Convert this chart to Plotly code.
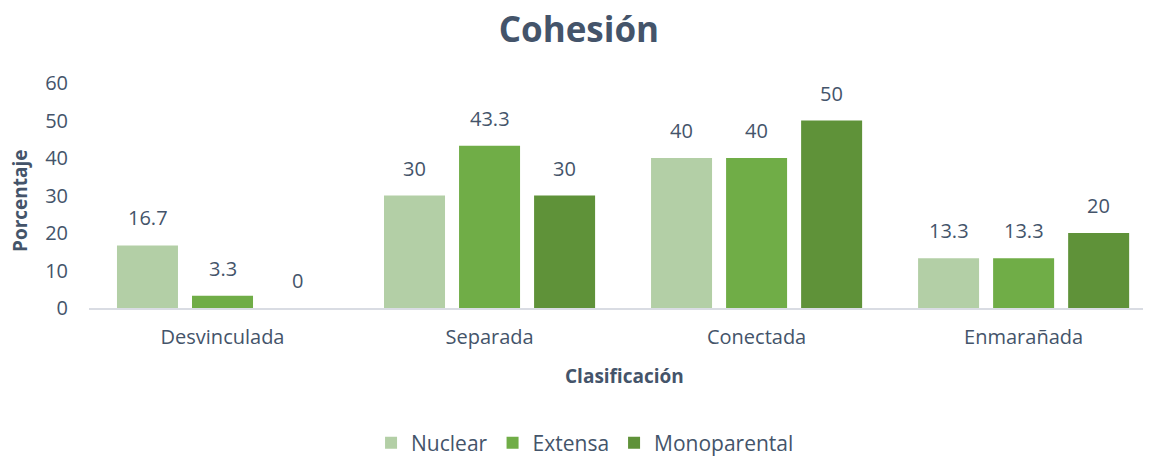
import plotly.graph_objects as go

categories = ["Desvinculada", "Separada", "Conectada", "Enmarañada"]
nuclear = [16.7, 30, 40, 13.3]
extensa = [3.3, 43.3, 40, 13.3]
monoparental = [0, 30, 50, 20]
series_names = ["Nuclear", "Extensa", "Monoparental"]
colors = ["#B3CFA6", "#70AD47", "#5F9239"]
y_ticks = [0, 10, 20, 30, 40, 50, 60]

FONT = "Open Sans"
TXT = "#44546A"
SLOT_PX = 75  # pixel width of one bar slot inside a group

fig = go.Figure()
annotations = []
all_series = [nuclear, extensa, monoparental]
for i, (name, vals, col) in enumerate(zip(series_names, all_series, colors)):
    fig.add_trace(go.Bar(
        name=name, x=categories, y=vals,
        marker=dict(color=col, line=dict(width=0)),
    ))
    for cat, v in zip(categories, vals):
        annotations.append(dict(
            x=cat, y=v, xref="x", yref="y", text=f"{v:g}", showarrow=False,
            xanchor="center", yanchor="bottom", xshift=(i - 1) * SLOT_PX, yshift=12,
            font=dict(family=FONT, size=20, color=TXT),
        ))

annotations.append(dict(
    text="<b>Clasificación</b>", x=0.5, y=-0.302, xref="paper", yref="paper",
    showarrow=False, xanchor="center", yanchor="middle",
    font=dict(family=FONT, size=19, color=TXT),
))
annotations.append(dict(
    text="<b>Porcentaje</b>", x=-0.0645, y=0.48, xref="paper", yref="paper",
    showarrow=False, xanchor="center", yanchor="middle", textangle=-90,
    font=dict(family=FONT, size=19, color=TXT),
))

fig.update_layout(
    width=1151, height=456,
    margin=dict(l=81, r=0, t=75, b=156, autoexpand=False),
    paper_bgcolor="white", plot_bgcolor="white",
    barmode="group", bargap=0.157, bargroupgap=0.187,
    title=dict(text="<b>Cohesión</b>", x=0.496, xanchor="center", y=0.952, yanchor="middle",
               xref="container", yref="container", font=dict(family=FONT, size=35, color=TXT)),
    font=dict(family=FONT, color=TXT),
    legend=dict(orientation="h", x=0.4636, xref="paper", xanchor="center",
                y=-0.6, yanchor="middle",
                font=dict(family=FONT, size=21, color=TXT), itemwidth=30,
                traceorder="normal"),
    showlegend=True,
    annotations=annotations,
)
fig.update_xaxes(
    range=[-0.5, 3.507], showline=True, linecolor="#D9DCE3", linewidth=1.5,
    ticks="", tickfont=dict(family=FONT, size=20, color=TXT), ticklabelstandoff=10,
    tickangle=0, showgrid=False, automargin=False,
)
fig.update_yaxes(
    range=[0, 60], tickvals=y_ticks, showgrid=False, zeroline=False, showline=False,
    tickfont=dict(family=FONT, size=20, color=TXT), ticks="", ticklabelstandoff=20,
    automargin=False,
)

fig.write_html("out.html")
